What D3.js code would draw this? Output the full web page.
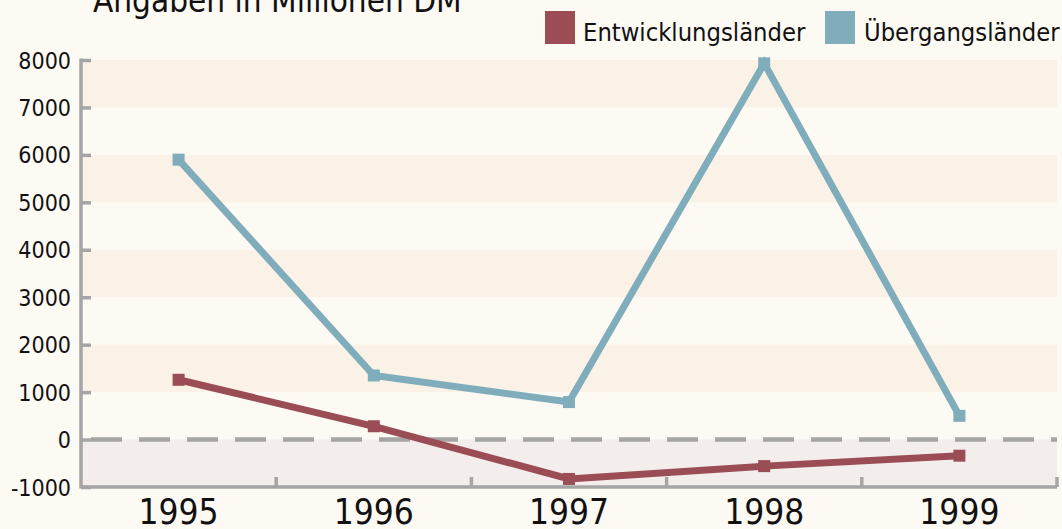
<!DOCTYPE html>
<html><head><meta charset="utf-8">
<script src="https://cdn.jsdelivr.net/npm/d3@7"></script>
<style>
html,body{margin:0;padding:0;background:#fdfaf4;}
text{font-family:"DejaVu Sans Condensed","DejaVu Sans",sans-serif;fill:#111;}
</style></head>
<body>
<svg id="chart" width="1062" height="529"></svg>
<script>
const years = ["1995","1996","1997","1998","1999"];
const entwicklung = [1260, 280, -830, -560, -340];
const uebergang = [5900, 1350, 790, 7930, 500];
const yTicks = [-1000,0,1000,2000,3000,4000,5000,6000,7000,8000];
const seriesNames = ["Entwicklungsländer","Übergangsländer"];
const colors = ["#9b4d55","#80adbb"];
const title = "Angaben in Millionen DM";

const svg = d3.select("#chart");
const W = 1062, H = 529;
svg.append("rect").attr("width",W).attr("height",H).attr("fill","#fdfaf4");

const x0 = 81, x1 = 1057;
const x = d3.scaleBand().domain(years).range([x0, x1]);
const y = d3.scaleLinear().domain([-1000, 8000]).range([487, 60]);

// stripes
const stripes = [[7000,8000],[5000,6000],[3000,4000],[1000,2000]];
svg.append("g").selectAll("rect").data(stripes).join("rect")
  .attr("x", x0).attr("width", x1 - x0)
  .attr("y", d => y(d[1])).attr("height", d => y(d[0]) - y(d[1]))
  .attr("fill", "#faf2e6");
svg.append("rect").attr("x", x0).attr("width", x1 - x0)
  .attr("y", y(0)).attr("height", y(-1000) - y(0)).attr("fill", "#f3eeeb");

// zero dashed line
svg.append("line").attr("x1", x0 + 10).attr("x2", x1)
  .attr("y1", y(0)).attr("y2", y(0))
  .attr("stroke", "#a5a5a5").attr("stroke-width", 4.5)
  .attr("stroke-dasharray", "31 17");

// y axis
const fmt = d => String(d).replace("\u2212", "-");
const yAxis = d3.axisLeft(y).tickValues(yTicks).tickSize(-10).tickPadding(20).tickFormat(fmt);
const gy = svg.append("g").attr("transform", `translate(${x0},0)`).call(yAxis);
gy.select(".domain").remove();
gy.selectAll(".tick line").attr("stroke", "#a5a5a5").attr("stroke-width", 3.5);
gy.selectAll(".tick text").attr("font-size", 23).attr("fill", "#111").attr("x", -10).attr("dy", "0.35em");
svg.append("line").attr("x1", x0).attr("x2", x0).attr("y1", y(8000) - 1.5).attr("y2", y(-1000) + 1.5)
  .attr("stroke", "#a5a5a5").attr("stroke-width", 3.5);

// x axis
const gx = svg.append("g").attr("transform", `translate(0,${y(-1000)})`);
gx.append("line").attr("x1", x0).attr("x2", x1).attr("y1", 0).attr("y2", 0)
  .attr("stroke", "#a5a5a5").attr("stroke-width", 3.5);
const bounds = years.map(d => x(d) + x.bandwidth());
gx.selectAll("line.tk").data(bounds).join("line").attr("class","tk")
  .attr("x1", d => d).attr("x2", d => d).attr("y1", 0).attr("y2", -10)
  .attr("stroke", "#a5a5a5").attr("stroke-width", 3.5);
gx.selectAll("text").data(years).join("text")
  .attr("x", d => x(d) + x.bandwidth()/2).attr("y", 37)
  .attr("text-anchor", "middle").attr("font-size", 35).text(d => d);

// lines
const cx = d => x(d) + x.bandwidth()/2;
const line = d3.line().x((d,i) => cx(years[i])).y(d => y(d));
[entwicklung, uebergang].forEach((vals, k) => {
  svg.append("path").datum(vals).attr("d", line)
    .attr("fill", "none").attr("stroke", colors[k]).attr("stroke-width", 7)
    .attr("stroke-linejoin", "miter");
  svg.append("g").selectAll("rect").data(vals).join("rect")
    .attr("x", (d,i) => cx(years[i]) - 6).attr("y", d => y(d) - 6)
    .attr("width", 12).attr("height", 12).attr("fill", colors[k]);
});

// legend
const legX = [545, 825];
const legTx = [583, 864];
seriesNames.forEach((n, k) => {
  svg.append("rect").attr("x", legX[k]).attr("y", 11).attr("width", 30).attr("height", 33).attr("fill", colors[k]);
  svg.append("text").attr("x", legTx[k]).attr("y", 41).attr("font-size", 25.3).text(n);
});

// title
svg.append("text").attr("x", 93).attr("y", 12).attr("font-size", 33).text(title);
</script>
</body></html>
